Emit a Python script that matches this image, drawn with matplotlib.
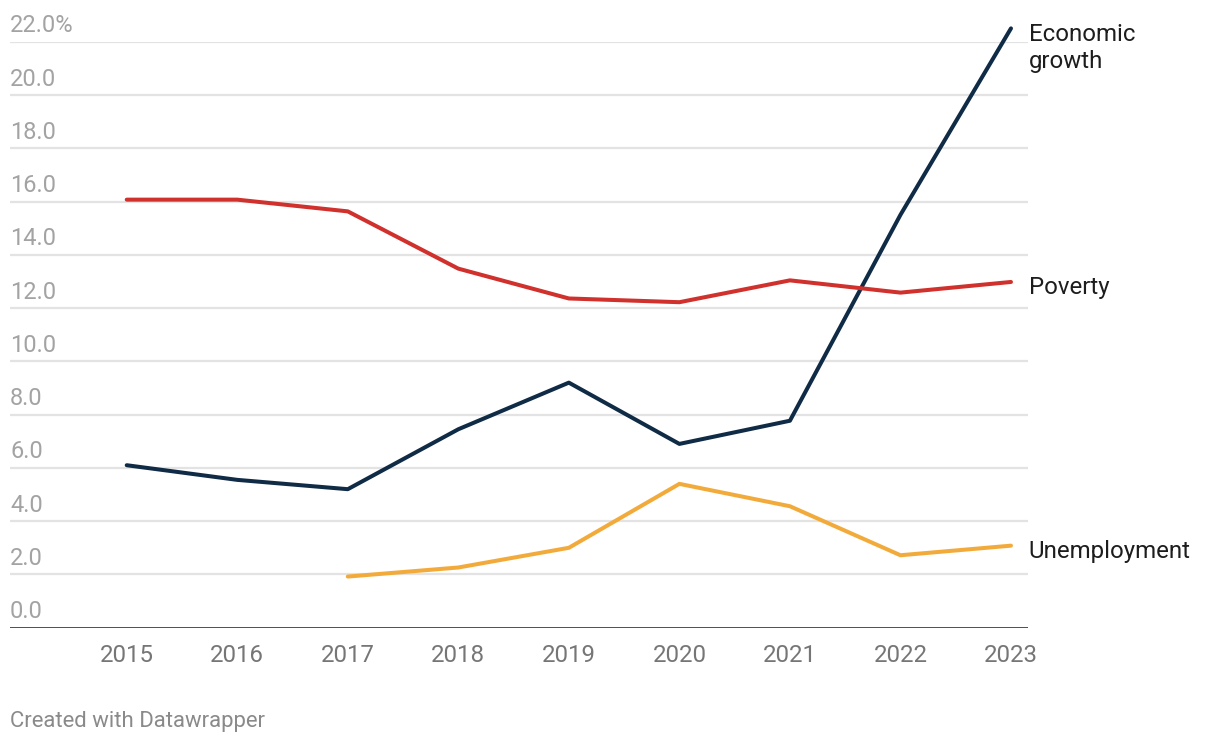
import matplotlib.pyplot as plt
import matplotlib.transforms as mtransforms

# data (percent)
years = [2015, 2016, 2017, 2018, 2019, 2020, 2021, 2022, 2023]
growth = [6.1, 5.55, 5.2, 7.45, 9.2, 6.9, 7.77, 15.5, 22.5]
poverty = [16.07, 16.07, 15.63, 13.48, 12.36, 12.22, 13.04, 12.58, 12.98]
unemp_years = [2017, 2018, 2019, 2020, 2021, 2022, 2023]
unemployment = [1.92, 2.26, 3.0, 5.4, 4.56, 2.72, 3.08]

y_ticks = [0, 2, 4, 6, 8, 10, 12, 14, 16, 18, 20, 22]

plt.rcParams['font.family'] = ['Roboto', 'DejaVu Sans']

W, H = 1220, 746
fig = plt.figure(figsize=(W / 100, H / 100), dpi=100)
ax = fig.add_axes([10 / W, 1 - 627.7 / H, (1028 - 10) / W, (627.7 - 41.7) / H])

ax.set_xlim(2015 - 1.056, 2023 + 0.154)
ax.set_ylim(0, 22)

# gridlines
for v in y_ticks[1:]:
    ax.axhline(v, color='#e3e3e3', lw=1.6, zorder=1)
ax.axhline(0, color='#1a1a1a', lw=1.8, zorder=3)

# y labels sit above gridlines
offset = mtransforms.offset_copy(ax.get_yaxis_transform(), fig=fig, x=0, y=6.8, units='points')
for v in y_ticks:
    label = f'{v:.1f}%' if v == 22 else f'{v:.1f}'
    ax.text(0, v, label, transform=offset, ha='left', va='baseline',
            fontsize=17, color='#a3a3a3')

ax.set_xticks(years)
ax.set_xticklabels([str(y) for y in years])
ax.tick_params(axis='x', length=0, pad=12, labelsize=17.3, labelcolor='#767676')
ax.set_yticks([])
for s in ax.spines.values():
    s.set_visible(False)

lw = 2.9
ax.plot(years, growth, color='#0f2b46', lw=lw, clip_on=False, zorder=4, solid_capstyle='round')
ax.plot(years, poverty, color='#d0312d', lw=lw, clip_on=False, zorder=4, solid_capstyle='round')
ax.plot(unemp_years, unemployment, color='#f2ab3b', lw=lw, clip_on=False, zorder=4, solid_capstyle='round')

# direct labels
lab = dict(fontsize=17.3, color='#1d1d1d', ha='left', va='baseline', transform=ax.transData)
ax.text(2023.16, 22.04, 'Economic', **lab)
ax.text(2023.16, 21.03, 'growth', **lab)
ax.text(2023.16, 12.54, 'Poverty', **lab)
ax.text(2023.16, 2.6, 'Unemployment', **lab)

fig.text(10 / W, 1 - 727 / H, 'Created with Datawrapper', ha='left', va='baseline',
         fontsize=15.9, color='#8a8a8a')

fig.savefig('out.png', dpi=100)
